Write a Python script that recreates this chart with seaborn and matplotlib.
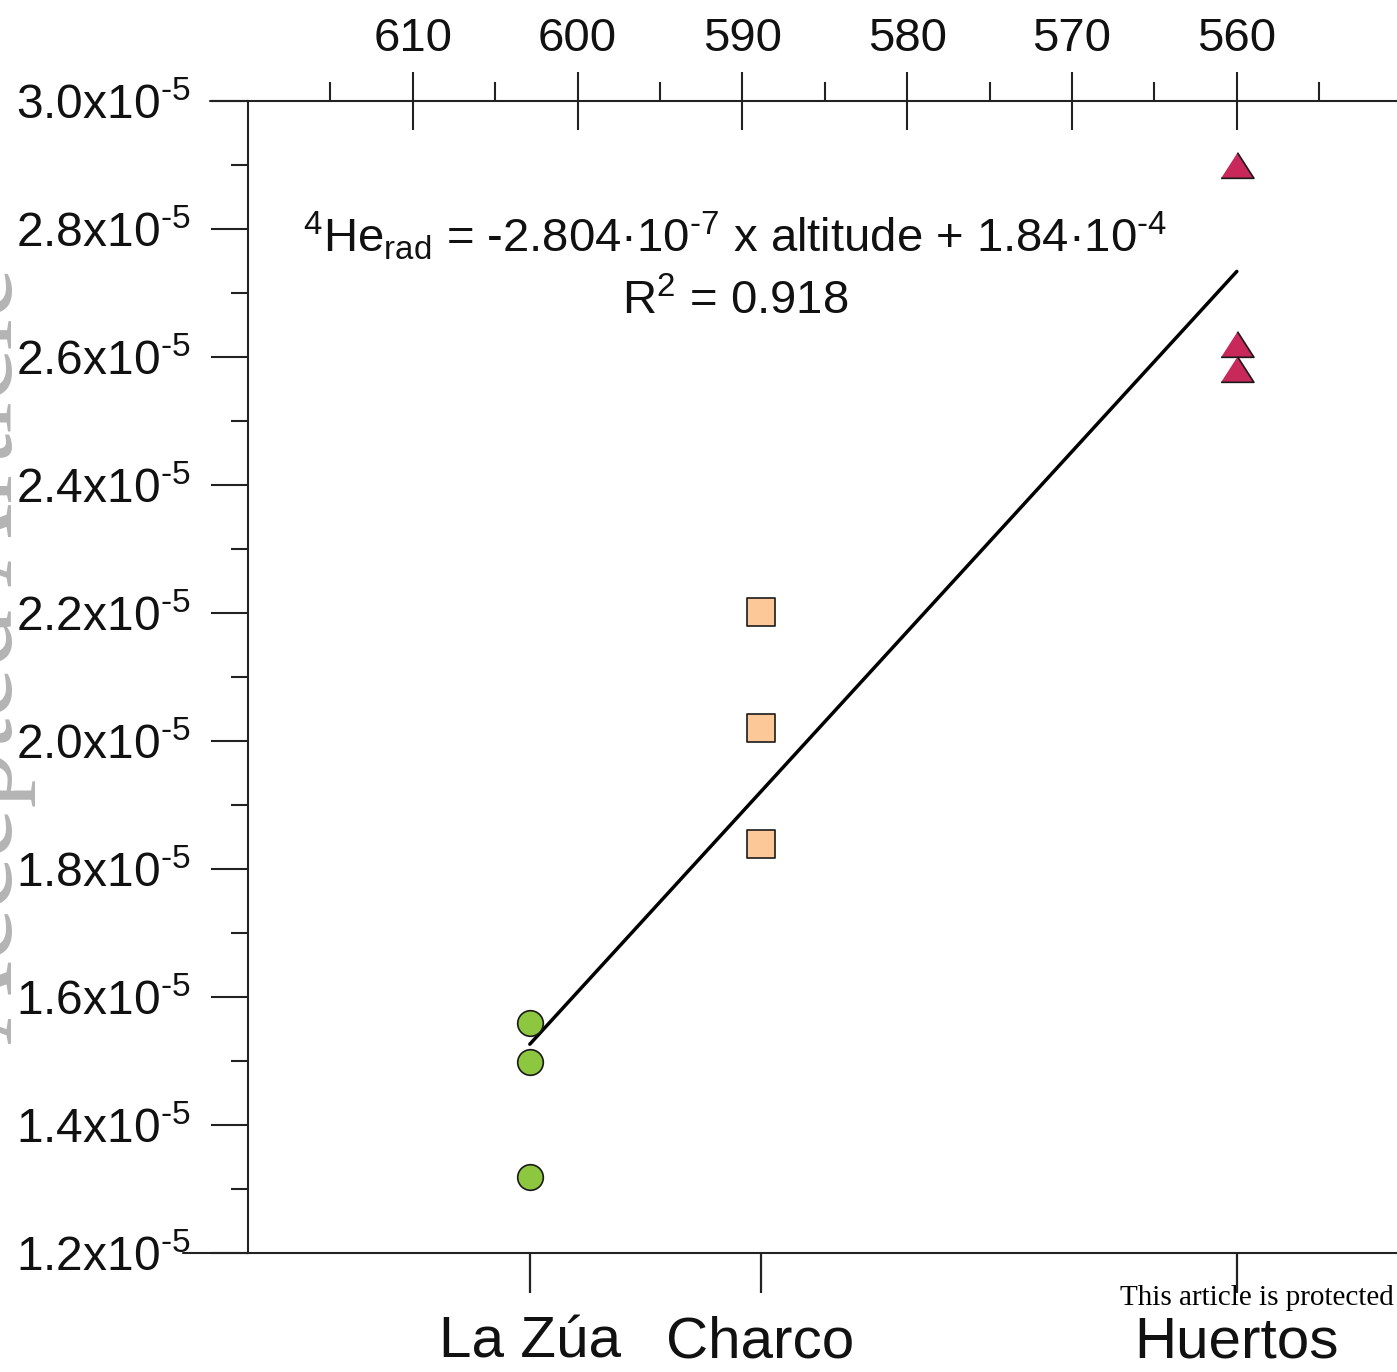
import numpy as np
import pandas as pd
import matplotlib
matplotlib.use("Agg")
import matplotlib.pyplot as plt
import seaborn as sns
from matplotlib.lines import Line2D
from matplotlib.ticker import FixedLocator

# ---------------- data ----------------
sites = ["La Zúa", "Charco", "Huertos"]
site_altitude = [602.9, 588.9, 560.0]
he_la_zua = [1.560e-5, 1.498e-5, 1.318e-5]
he_charco = [2.202e-5, 2.021e-5, 1.839e-5]
he_huertos = [2.900e-5, 2.621e-5, 2.582e-5]

altitude_ticks = [610, 600, 590, 580, 570, 560]
altitude_minor_ticks = [615, 605, 595, 585, 575, 565, 555]
he_ticks = [1.2e-5, 1.4e-5, 1.6e-5, 1.8e-5, 2.0e-5, 2.2e-5, 2.4e-5, 2.6e-5, 2.8e-5, 3.0e-5]
he_tick_labels = ["1.2x10$^{\\text{-5}}$", "1.4x10$^{\\text{-5}}$", "1.6x10$^{\\text{-5}}$",
                  "1.8x10$^{\\text{-5}}$", "2.0x10$^{\\text{-5}}$", "2.2x10$^{\\text{-5}}$",
                  "2.4x10$^{\\text{-5}}$", "2.6x10$^{\\text{-5}}$", "2.8x10$^{\\text{-5}}$",
                  "3.0x10$^{\\text{-5}}$"]
he_minor_ticks = [1.3e-5, 1.5e-5, 1.7e-5, 1.9e-5, 2.1e-5, 2.3e-5, 2.5e-5, 2.7e-5, 2.9e-5]

equation_text = ("$^{\\text{4}}$He$_{\\text{rad}}$ = -2.804·10$^{\\text{-7}}$ x altitude"
                 " + 1.84·10$^{\\text{-4}}$")
r2_text = "R$^{\\text{2}}$ = 0.918"

df = pd.DataFrame({
    "site": np.repeat(sites, 3),
    "altitude": np.repeat(site_altitude, 3),
    "he": he_la_zua + he_charco + he_huertos,
})

# ---------------- style ----------------
sns.set_style("ticks")
plt.rcParams["font.family"] = ["Liberation Sans", "DejaVu Sans"]
plt.rcParams["mathtext.fontset"] = "custom"
plt.rcParams["mathtext.rm"] = "Liberation Sans"
plt.rcParams["mathtext.it"] = "Liberation Sans:italic"
plt.rcParams["mathtext.bf"] = "Liberation Sans:bold"
plt.rcParams["axes.edgecolor"] = "#222222"
plt.rcParams["xtick.color"] = "#222222"
plt.rcParams["ytick.color"] = "#222222"
plt.rcParams["xtick.labelcolor"] = "#111111"
plt.rcParams["ytick.labelcolor"] = "#111111"

W, H = 1397, 1372
fig = plt.figure(figsize=(W / 100, H / 100), dpi=100)
fig.patch.set_facecolor("white")
ax = fig.add_axes([248 / W, 119 / H, 1 - 248 / W, 1152 / H])

# regression line (fit through the data)
sns.regplot(data=df, x="altitude", y="he", scatter=False, ci=None, ax=ax,
            line_kws=dict(color="black", lw=2.5, zorder=2))

tri = [(-1.0, -0.78), (1.0, -0.78), (0.0, 0.78)]
marker_styles = {
    "La Zúa": dict(marker="o", s=340, color="#8DC63F"),
    "Charco": dict(marker="s", s=390, color="#FDC898"),
    "Huertos": dict(marker=tri, s=560, color="#C8285A"),
}
for site in sites:
    st = marker_styles[site]
    sns.scatterplot(data=df[df["site"] == site], x="altitude", y="he", ax=ax,
                    marker=st["marker"], s=st["s"], color=st["color"],
                    edgecolor="#1a1a1a", linewidth=1.2, zorder=3, legend=False)

ax.set_xlim(620, 550.28)
ax.set_ylim(1.2e-5, 3.0e-5)
ax.set_xlabel("")
ax.set_ylabel("")

# bottom axis: sites
ax.set_xticks(site_altitude, labels=sites)
ax.tick_params(axis="x", which="major", direction="out", length=29, width=1.6,
               labelsize=42, pad=16)
# left axis
ax.set_yticks(he_ticks, labels=he_tick_labels)
ax.yaxis.set_minor_locator(FixedLocator(he_minor_ticks))
ax.tick_params(axis="y", which="major", direction="out", length=27, width=1.5,
               labelsize=34.5, pad=14)
ax.tick_params(axis="y", which="minor", direction="out", length=12, width=1.5)

for side in ["top", "right"]:
    ax.spines[side].set_visible(False)
for side in ["left", "bottom"]:
    ax.spines[side].set_linewidth(1.5)

# top axis: altitude
secax = ax.secondary_xaxis("top")
secax.set_xticks(altitude_ticks)
secax.set_xticklabels([str(v) for v in altitude_ticks])
secax.xaxis.set_minor_locator(FixedLocator(altitude_minor_ticks))
secax.tick_params(which="major", direction="inout", length=42, width=1.5,
                  labelsize=34, pad=8)
secax.tick_params(which="minor", direction="out", length=14, width=1.5)
secax.spines["top"].set_linewidth(1.5)

# axis line extensions to the left
fig.add_artist(Line2D([210 / W, 248 / W], [1 - 101 / H, 1 - 101 / H],
                      transform=fig.transFigure, color="#222222", lw=1.5))
fig.add_artist(Line2D([183 / W, 248 / W], [1 - 1253 / H, 1 - 1253 / H],
                      transform=fig.transFigure, color="#222222", lw=1.5))

# equation
ax.text(0.4238, 0.8690, equation_text, transform=ax.transAxes, ha="center",
        va="baseline", fontsize=34, color="#111111")
ax.text(0.4238, 0.8150, r2_text, transform=ax.transAxes, ha="center",
        va="baseline", fontsize=34, color="#111111")

# watermark and footer text
fig.text(12 / W, 1 - 655 / H, "Accepted Article", rotation=90, rotation_mode="anchor",
         ha="center", va="baseline", fontsize=83, family=["Liberation Serif"],
         color="#b4b4b4", zorder=-1)
fig.text(1120 / W, 1 - 1305 / H, "This article is protected", ha="left", va="baseline",
         fontsize=21, family=["Liberation Serif"], color="black", zorder=10)

fig.savefig("out.png", dpi=100, facecolor="white")
